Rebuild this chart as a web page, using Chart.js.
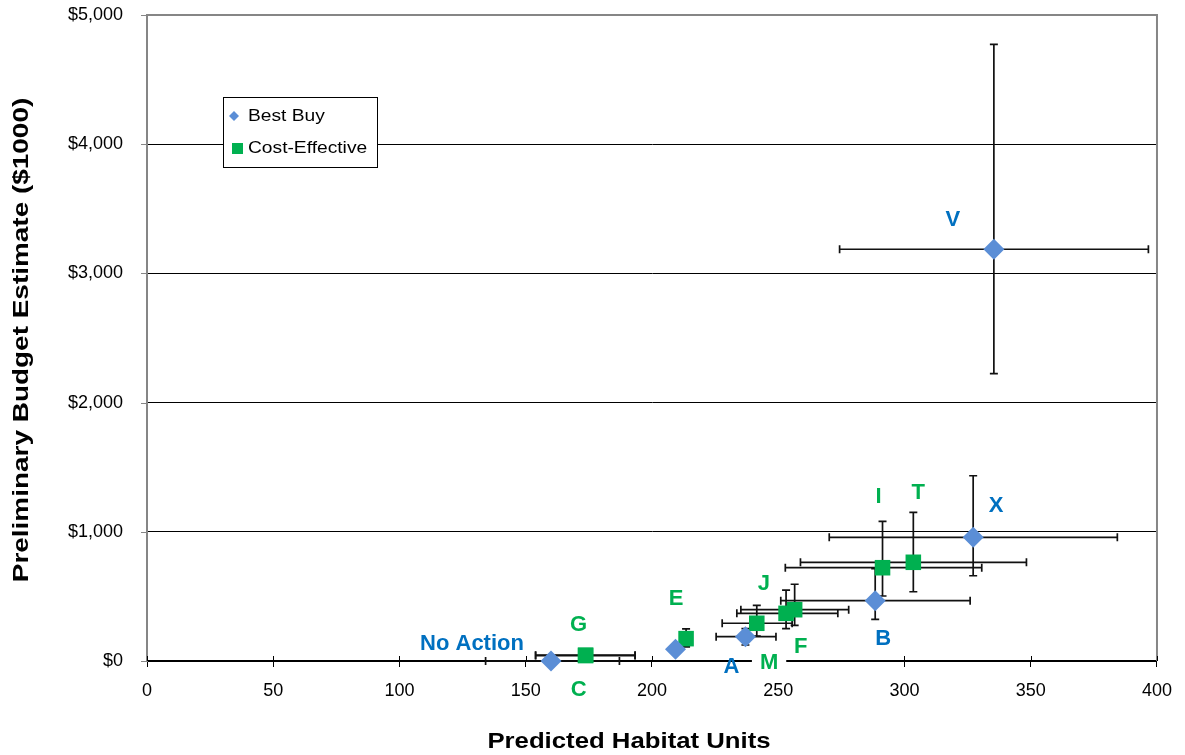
<!DOCTYPE html>
<html>
<head>
<meta charset="utf-8">
<script src="https://cdn.jsdelivr.net/npm/chart.js@4.4.1/dist/chart.umd.min.js"></script>
<style>
  html, body { margin: 0; padding: 0; background: #fff; }
  canvas { display: block; }
</style>
</head>
<body>
<canvas id="chart" width="1185" height="755"></canvas>
<script>
// Axis ticks
const xTicks = [0, 50, 100, 150, 200, 250, 300, 350, 400];
const yTicks = [0, 1000, 2000, 3000, 4000, 5000];
const yTickLabels = ['$0', '$1,000', '$2,000', '$3,000', '$4,000', '$5,000'];

// Best Buy plans: habitat units, budget ($1000) and uncertainty ranges
const bestBuyNames = ['No Action', '', 'A', 'B', 'X', 'V'];
const bestBuyX     = [160.0, 209.3, 237.0, 288.4, 327.2, 335.4];
const bestBuyY     = [0, 90, 188, 467, 957, 3187];
const bestBuyXLow  = [134.1, null, 225.4, 251.0, 270.2, 274.3];
const bestBuyXHigh = [187.1, null, 249.1, 326.0, 384.3, 396.6];
const bestBuyYLow  = [null, null, 124, 322, 660, 2224];
const bestBuyYHigh = [null, null, 250, 714, 1434, 4773];

// Cost-effective plans
const costEffNames = ['C', 'G', 'E', 'J', 'M', 'F', 'I', 'T'];
const costEffX     = [173.7, 173.7, 213.5, 241.5, 253.1, 256.5, 291.3, 303.5];
const costEffY     = [42, 45, 173, 292, 369, 397, 722, 764];
const costEffXLow  = [153.9, 153.9, 211.5, 227.8, 233.6, 235.2, 252.8, 258.8];
const costEffXHigh = [193.3, 193.3, 215.5, 255.5, 273.6, 277.9, 330.6, 348.3];
const costEffYLow  = [null, null, 110, 193, 250, 276, 503, 536];
const costEffYHigh = [null, null, 248, 431, 549, 594, 1081, 1151];

const BLUE_MARK = '#5B8ED6';
const BLUE_TEXT = '#0070C0';
const GREEN = '#00B050';
const FONT = '"Liberation Sans", Arial, sans-serif';

// Label placement (pixel offsets from each point) and whether the label masks what is beneath it
const bestBuyLabelStyle = [
  { dx: -79, dy: -18 }, null, { dx: -14, dy: 29 }, { dx: 8, dy: 37 },
  { dx: 23, dy: -32 }, { dx: -41, dy: -30 }
];
const costEffLabelStyle = [
  { dx: -7, dy: 33 }, { dx: -7, dy: -31 }, { dx: -10, dy: -41 }, { dx: 7, dy: -40 },
  { dx: -17, dy: 49, mask: true }, { dx: 6, dy: 36, mask: true },
  { dx: -4, dy: -72 }, { dx: 5, dy: -70 }
];

function points(xs, ys) {
  return xs.map((x, i) => ({ x: x, y: ys[i] }));
}

const errorBars = [
  { xLow: bestBuyXLow, xHigh: bestBuyXHigh, yLow: bestBuyYLow, yHigh: bestBuyYHigh },
  { xLow: costEffXLow, xHigh: costEffXHigh, yLow: costEffYLow, yHigh: costEffYHigh }
];

const pointLabels = [
  { names: bestBuyNames, style: bestBuyLabelStyle, color: BLUE_TEXT },
  { names: costEffNames, style: costEffLabelStyle, color: GREEN }
];

// Text drawn with a horizontal stretch (optionally turned to run upwards)
function wideText(ctx, text, x, y, sx, upright) {
  ctx.save();
  ctx.translate(x, y);
  if (upright) ctx.rotate(-Math.PI / 2);
  ctx.scale(sx, 1);
  ctx.fillText(text, 0, 0);
  ctx.restore();
}

// Error bars drawn beneath the markers
const errorBarPlugin = {
  id: 'errorBars',
  beforeDatasetsDraw(chart) {
    const { ctx, scales: { x, y } } = chart;
    const cap = 4;
    ctx.save();
    ctx.strokeStyle = '#111';
    ctx.lineWidth = 1.7;
    chart.data.datasets.forEach((ds, d) => {
      const eb = errorBars[d];
      ds.data.forEach((p, i) => {
        const px = x.getPixelForValue(p.x);
        const py = y.getPixelForValue(p.y);
        ctx.beginPath();
        if (eb.xLow[i] != null) {
          const x1 = x.getPixelForValue(eb.xLow[i]);
          const x2 = x.getPixelForValue(eb.xHigh[i]);
          ctx.moveTo(x1, py); ctx.lineTo(x2, py);
          ctx.moveTo(x1, py - cap); ctx.lineTo(x1, py + cap);
          ctx.moveTo(x2, py - cap); ctx.lineTo(x2, py + cap);
        }
        if (eb.yLow[i] != null) {
          const y1 = y.getPixelForValue(eb.yLow[i]);
          const y2 = y.getPixelForValue(eb.yHigh[i]);
          ctx.moveTo(px, y1); ctx.lineTo(px, y2);
          ctx.moveTo(px - cap, y1); ctx.lineTo(px + cap, y1);
          ctx.moveTo(px - cap, y2); ctx.lineTo(px + cap, y2);
        }
        ctx.stroke();
      });
    });
    ctx.restore();
  }
};

// Plot frame, axis titles, point labels and the boxed legend
const decorPlugin = {
  id: 'decor',
  beforeDatasetsDraw(chart) {
    const { ctx, chartArea: a, scales: { x, y } } = chart;
    ctx.save();
    // right border of the plot
    ctx.strokeStyle = '#868686';
    ctx.lineWidth = 2;
    ctx.beginPath();
    ctx.moveTo(a.right, a.top - 1);
    ctx.lineTo(a.right, a.bottom);
    ctx.stroke();
    // short outward tick marks on the value axis
    ctx.lineWidth = 1;
    ctx.beginPath();
    yTicks.forEach(v => {
      const py = Math.round(y.getPixelForValue(v)) + 0.5;
      ctx.moveTo(a.left - 6, py);
      ctx.lineTo(a.left, py);
    });
    ctx.stroke();
    // x tick marks also cross above the axis line
    ctx.strokeStyle = '#000';
    ctx.beginPath();
    xTicks.forEach(v => {
      const px = Math.round(x.getPixelForValue(v)) + 0.5;
      ctx.moveTo(px, a.bottom - 5);
      ctx.lineTo(px, a.bottom);
    });
    ctx.stroke();
    ctx.restore();
  },
  afterDraw(chart) {
    const { ctx, chartArea: a, scales: { x, y } } = chart;
    ctx.save();

    // axis titles
    ctx.fillStyle = '#000';
    ctx.font = 'bold 22px ' + FONT;
    ctx.textAlign = 'center';
    ctx.textBaseline = 'middle';
    wideText(ctx, 'Predicted Habitat Units', (a.left + a.right) / 2 - 23, 742, 1.17, false);
    wideText(ctx, 'Preliminary Budget Estimate ($1000)', 22, (a.top + a.bottom) / 2 + 2, 1.27, true);

    // point labels
    ctx.font = 'bold 22px ' + FONT;
    chart.data.datasets.forEach((ds, d) => {
      const pl = pointLabels[d];
      ds.data.forEach((p, i) => {
        const st = pl.style[i];
        const name = pl.names[i];
        if (!st || !name) return;
        const lx = x.getPixelForValue(p.x) + st.dx;
        const ly = y.getPixelForValue(p.y) + st.dy;
        if (st.mask) {
          const w = ctx.measureText(name).width;
          ctx.fillStyle = '#fff';
          ctx.fillRect(lx - w / 2 - 8, ly - 13, w + 16, 27);
        }
        ctx.fillStyle = pl.color;
        ctx.fillText(name, lx, ly + 1);
      });
    });

    // legend
    const lx = a.left + 76, ly = a.top + 82, lw = 154, lh = 70;
    ctx.fillStyle = '#fff';
    ctx.fillRect(lx, ly, lw, lh);
    ctx.strokeStyle = '#000';
    ctx.lineWidth = 1;
    ctx.strokeRect(lx + 0.5, ly + 0.5, lw, lh);
    ctx.fillStyle = BLUE_MARK;
    ctx.beginPath();
    const dcx = lx + 11, dcy = ly + 19;
    ctx.moveTo(dcx - 5, dcy); ctx.lineTo(dcx, dcy - 5);
    ctx.lineTo(dcx + 5, dcy); ctx.lineTo(dcx, dcy + 5);
    ctx.closePath();
    ctx.fill();
    ctx.fillStyle = GREEN;
    ctx.fillRect(lx + 9, ly + 46, 11, 11);
    ctx.fillStyle = '#000';
    ctx.font = '16px ' + FONT;
    ctx.textAlign = 'left';
    wideText(ctx, chart.data.datasets[0].label, lx + 25, ly + 20, 1.2, false);
    wideText(ctx, chart.data.datasets[1].label, lx + 25, ly + 52, 1.2, false);
    ctx.restore();
  }
};

new Chart(document.getElementById('chart'), {
  type: 'scatter',
  data: {
    datasets: [
      {
        label: 'Best Buy',
        data: points(bestBuyX, bestBuyY),
        pointStyle: 'rectRot',
        pointRadius: 10.5,
        backgroundColor: BLUE_MARK,
        borderColor: BLUE_MARK,
        borderWidth: 0,
        clip: false
      },
      {
        label: 'Cost-Effective',
        data: points(costEffX, costEffY),
        pointStyle: 'rect',
        pointRadius: 11,
        backgroundColor: GREEN,
        borderColor: GREEN,
        borderWidth: 0,
        clip: false
      }
    ]
  },
  options: {
    responsive: false,
    animation: false,
    devicePixelRatio: 1,
    layout: { padding: { top: 15, right: 27, left: 0, bottom: 0 } },
    plugins: { legend: { display: false }, tooltip: { enabled: false } },
    scales: {
      x: {
        type: 'linear',
        min: 0,
        max: 400,
        afterBuildTicks(scale) { scale.ticks = xTicks.map(v => ({ value: v })); },
        afterFit(scale) { scale.height = 94; },
        ticks: {
          color: '#000',
          font: { family: FONT, size: 18 },
          padding: 13,
          maxRotation: 0
        },
        grid: { drawOnChartArea: false, color: '#000', tickLength: 6 },
        border: { color: '#000', width: 2 }
      },
      y: {
        type: 'linear',
        min: 0,
        max: 5000,
        afterBuildTicks(scale) { scale.ticks = yTicks.map(v => ({ value: v })); },
        afterFit(scale) { scale.width = 147; },
        ticks: {
          color: '#000',
          font: { family: FONT, size: 18 },
          padding: 3,
          callback: (v) => yTickLabels[yTicks.indexOf(v)]
        },
        grid: {
          color: (c) => (c.tick && c.tick.value === 5000 ? '#868686' : '#000'),
          lineWidth: (c) => (c.tick && c.tick.value === 5000 ? 2 : 1),
          tickColor: 'rgba(0,0,0,0)',
          tickLength: 21
        },
        border: { color: '#868686', width: 2 }
      }
    }
  },
  plugins: [errorBarPlugin, decorPlugin]
});
</script>
</body>
</html>
